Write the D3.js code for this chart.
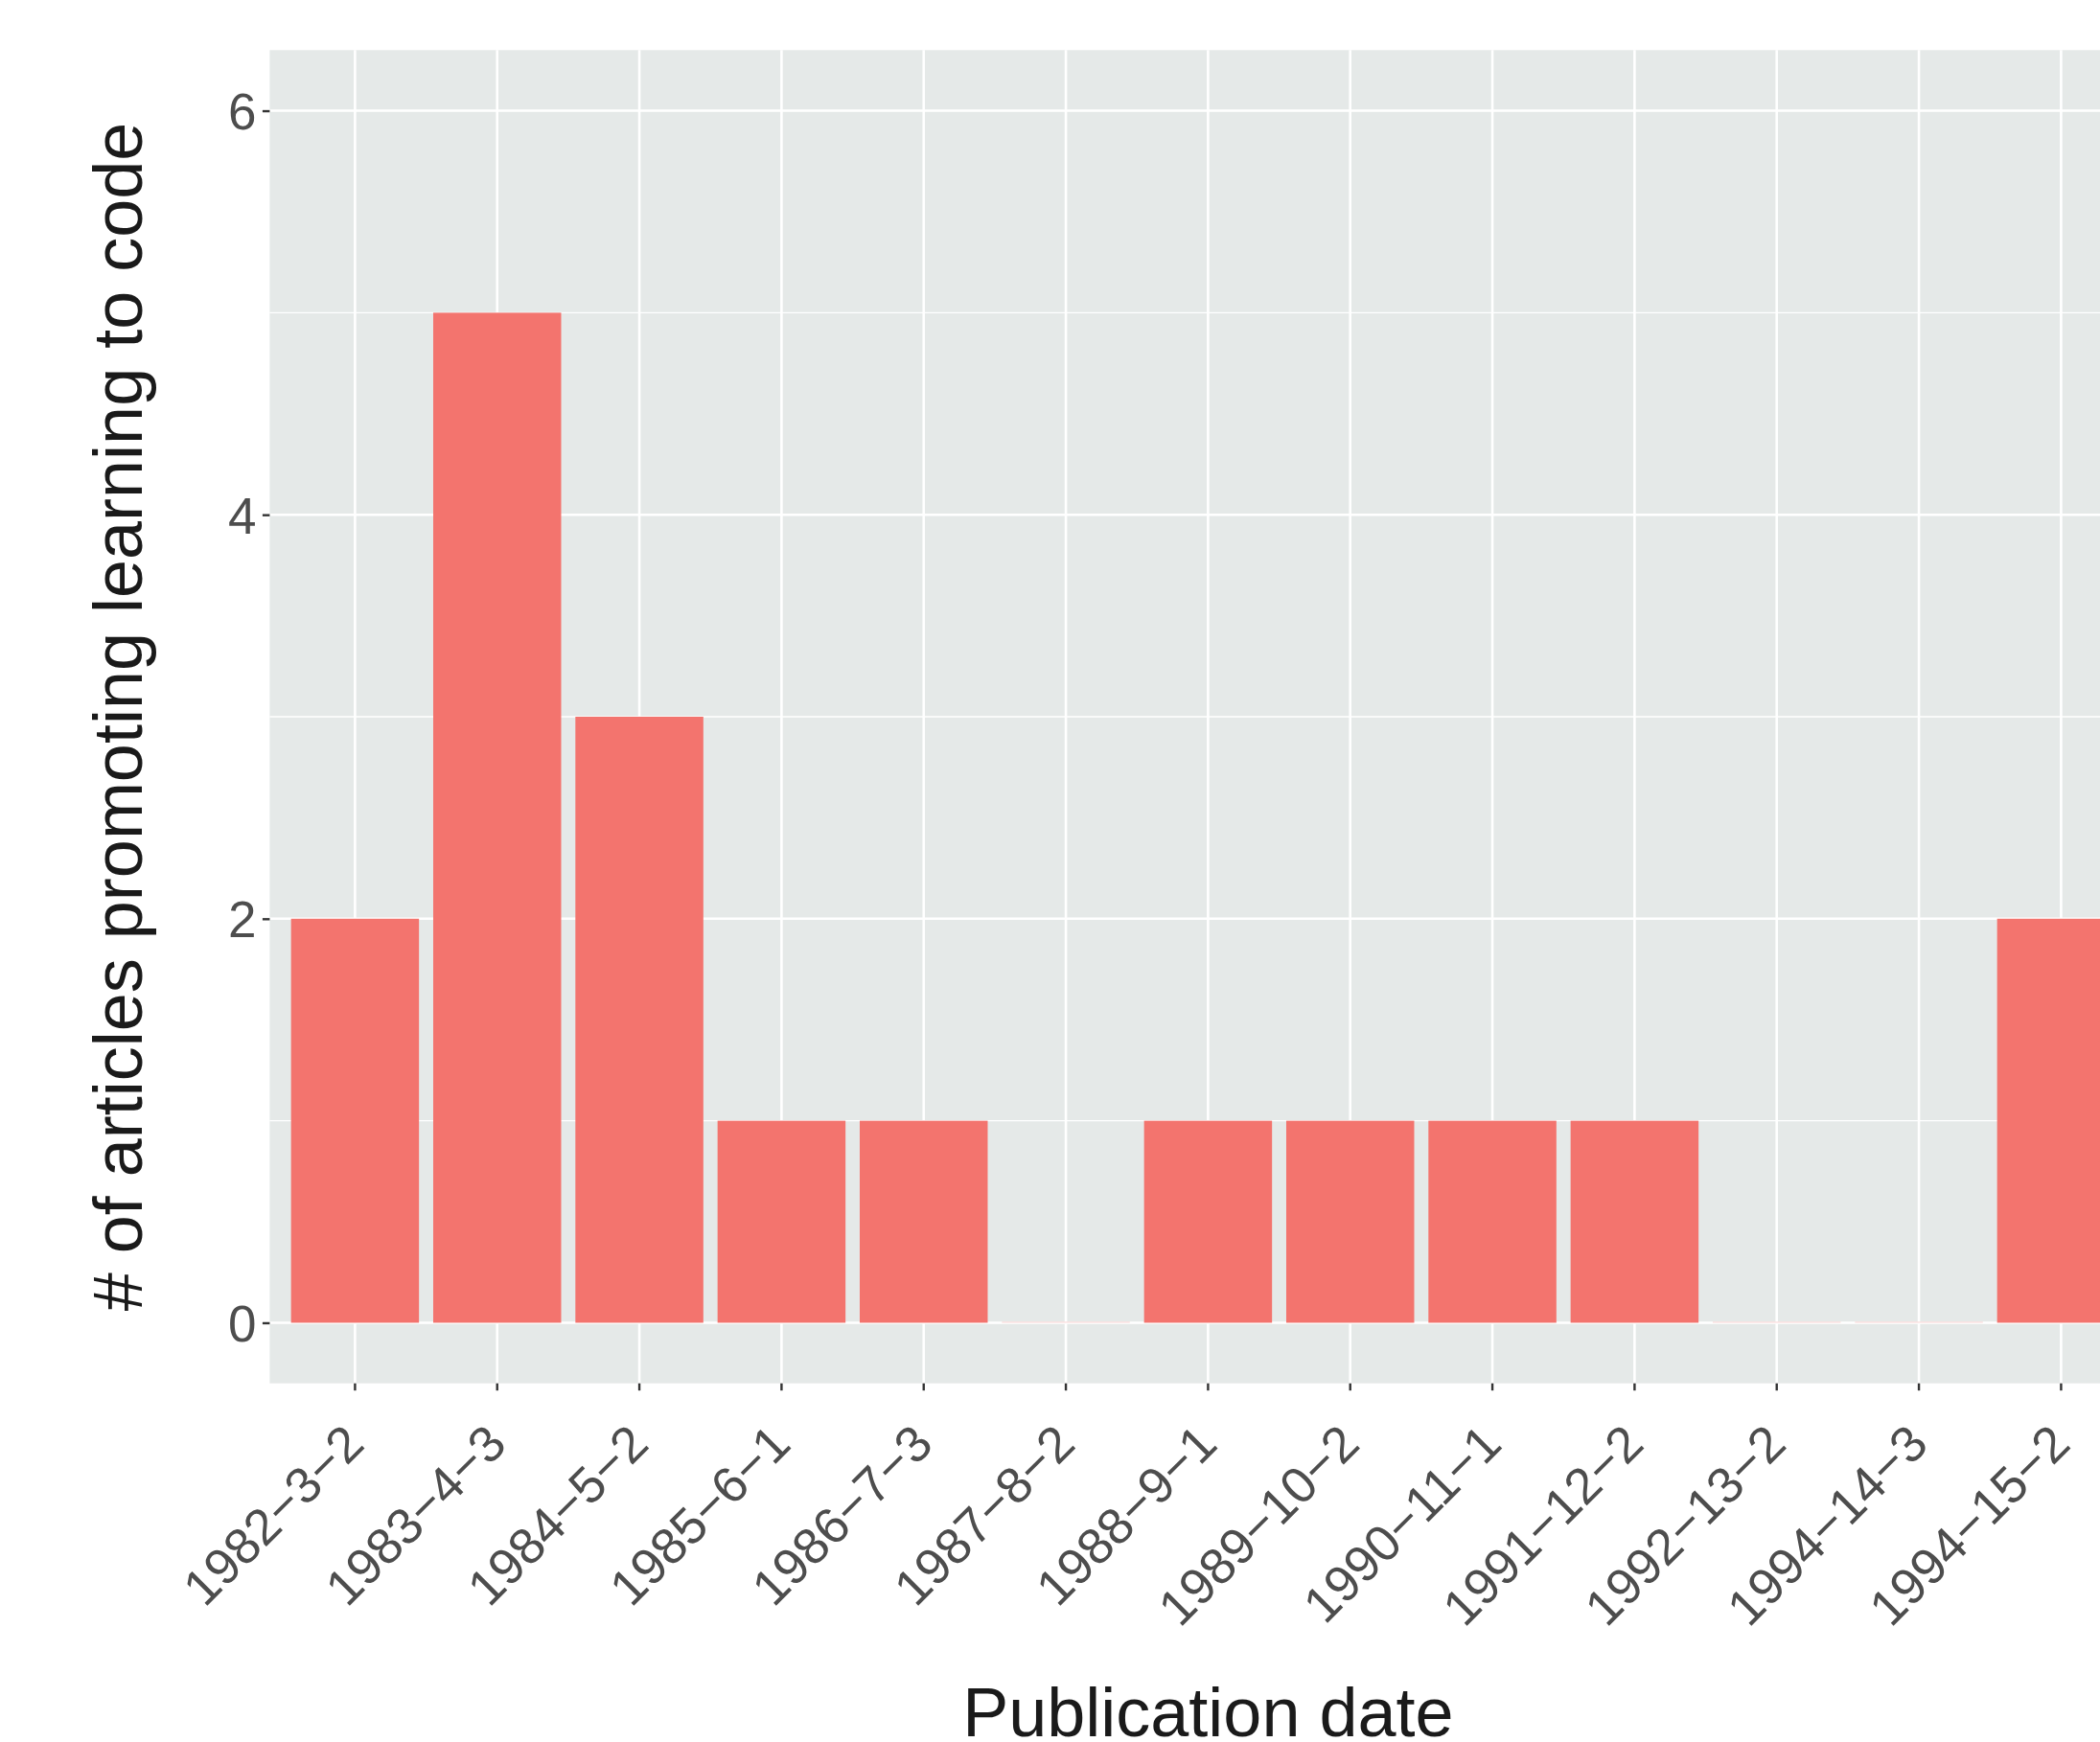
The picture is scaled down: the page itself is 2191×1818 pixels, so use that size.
<!DOCTYPE html>
<html>
<head>
<meta charset="utf-8">
<script src="https://cdn.jsdelivr.net/npm/d3@7"></script>
<style>
  html, body { margin: 0; padding: 0; background: #ffffff; }
  svg { display: block; }
  text { font-family: "Liberation Sans", Arial, Helvetica, sans-serif; }
</style>
</head>
<body>
<svg id="chart" width="2191" height="1818"></svg>
<script>
// ---- data ----
const categories = ["1982\u22123\u22122", "1983\u22124\u22123", "1984\u22125\u22122", "1985\u22126\u22121",
  "1986\u22127\u22123", "1987\u22128\u22122", "1988\u22129\u22121", "1989\u221210\u22122",
  "1990\u221211\u22121", "1991\u221212\u22122", "1992\u221213\u22122", "1994\u221214\u22123",
  "1994\u221215\u22122"];
const counts = [2, 5, 3, 1, 1, 0, 1, 1, 1, 1, 0, 0, 2];
const yMajorTicks = [0, 2, 4, 6];
const yMinorTicks = [1, 3, 5];
const xTitle = "Publication date";
const yTitle = "# of articles promoting learning to code";

// ---- layout ----
const W = 2191, H = 1818;
const panel = { left: 281.4, right: 2239.4, top: 52.3, bottom: 1443.7 };
const colors = { panel: "#E5E9E8", bar: "#F3746E", grid: "#FFFFFF", tickText: "#4D4D4D", title: "#1A1A1A", tick: "#333333" };

const svg = d3.select("#chart");

const x = d3.scaleBand()
  .domain(categories)
  .range([panel.left, panel.right])
  .paddingInner(0.1)
  .paddingOuter(0.15);

const y = d3.scaleLinear()
  .domain([-0.3, 6.3])
  .range([panel.bottom, panel.top]);

// panel background
svg.append("rect")
  .attr("x", panel.left).attr("y", panel.top)
  .attr("width", panel.right - panel.left)
  .attr("height", panel.bottom - panel.top)
  .attr("fill", colors.panel);

// minor grid
svg.append("g").selectAll("line").data(yMinorTicks).join("line")
  .attr("x1", panel.left).attr("x2", panel.right)
  .attr("y1", d => y(d)).attr("y2", d => y(d))
  .attr("stroke", colors.grid).attr("stroke-width", 1.3);

// major grid horizontal
svg.append("g").selectAll("line").data(yMajorTicks).join("line")
  .attr("x1", panel.left).attr("x2", panel.right)
  .attr("y1", d => y(d)).attr("y2", d => y(d))
  .attr("stroke", colors.grid).attr("stroke-width", 2.6);

// major grid vertical
svg.append("g").selectAll("line").data(categories).join("line")
  .attr("x1", d => x(d) + x.bandwidth() / 2).attr("x2", d => x(d) + x.bandwidth() / 2)
  .attr("y1", panel.top).attr("y2", panel.bottom)
  .attr("stroke", colors.grid).attr("stroke-width", 2.6);

// bars
const data = categories.map((c, i) => ({ c, v: counts[i] }));
svg.append("g").selectAll("rect").data(data).join("rect")
  .attr("x", d => x(d.c))
  .attr("width", x.bandwidth())
  .attr("y", d => Math.min(y(d.v), y(0)))
  .attr("height", d => Math.abs(y(0) - y(d.v)))
  .attr("fill", colors.bar);

// zero-height bars leave a faint trace on the baseline
svg.append("g").selectAll("line").data(data.filter(d => d.v === 0)).join("line")
  .attr("x1", d => x(d.c)).attr("x2", d => x(d.c) + x.bandwidth())
  .attr("y1", d => y(d.v) - 0.5).attr("y2", d => y(d.v) - 0.5)
  .attr("stroke", colors.bar).attr("stroke-opacity", 0.3).attr("stroke-width", 1);

// y axis
const yAxis = svg.append("g")
  .attr("transform", `translate(${panel.left},0)`)
  .call(d3.axisLeft(y).tickValues(yMajorTicks).tickSize(7.5).tickPadding(6.5).tickFormat(d3.format("d")));
yAxis.select(".domain").remove();
yAxis.selectAll(".tick line").attr("stroke", colors.tick).attr("stroke-width", 2.4);
yAxis.selectAll(".tick text")
  .attr("fill", colors.tickText)
  .style("font-size", "53px")
  .attr("dy", "0.36em");

// x axis
const xAxis = svg.append("g")
  .attr("transform", `translate(0,${panel.bottom})`)
  .call(d3.axisBottom(x).tickSize(7.5));
xAxis.select(".domain").remove();
xAxis.selectAll(".tick line").attr("stroke", colors.tick).attr("stroke-width", 2.4);
xAxis.selectAll(".tick text")
  .attr("fill", colors.tickText)
  .style("font-size", "53px")
  .attr("x", 0).attr("y", 0).attr("dy", 0)
  .attr("text-anchor", "end")
  .attr("transform", "translate(12,66) rotate(-45)");

// axis titles
svg.append("text")
  .attr("x", (panel.left + panel.right) / 2)
  .attr("y", 1812)
  .attr("text-anchor", "middle")
  .attr("fill", colors.title)
  .style("font-size", "72px")
  .text(xTitle);

svg.append("text")
  .attr("transform", `translate(148,${(panel.top + panel.bottom) / 2}) rotate(-90)`)
  .attr("text-anchor", "middle")
  .attr("fill", colors.title)
  .style("font-size", "72px")
  .text(yTitle);
</script>
</body>
</html>
